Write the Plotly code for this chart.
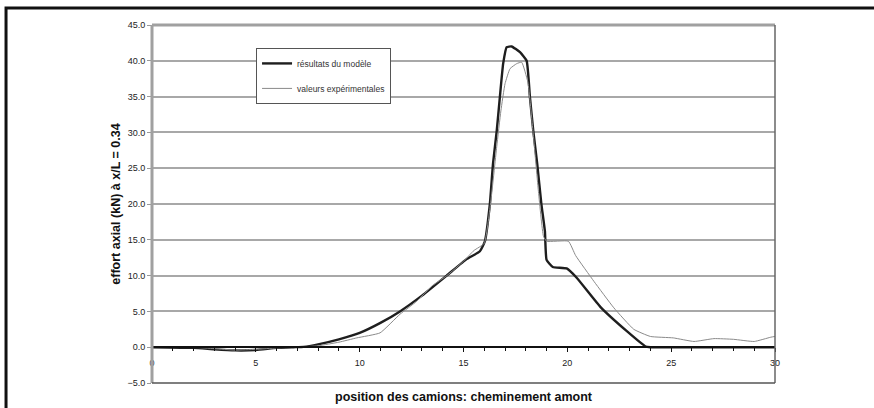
import plotly.graph_objects as go

# Axial force at x/L = 0.34 versus truck position (upstream path)
model_x = [0, 2, 3, 4, 5, 6, 6.8, 7.3, 8, 9, 10, 11, 11.94, 13, 14.19, 15.15, 15.79,
           16.03, 16.27, 16.42, 16.6, 16.75, 16.91, 17.08, 17.32, 17.72, 18.04,
           18.2, 18.36, 18.55, 18.75, 18.92, 19.0, 19.3, 19.97, 20.45, 21.6,
           22.88, 23.77, 24.0, 30]
model_y = [0, -0.1, -0.3, -0.45, -0.4, -0.1, 0, 0.05, 0.4, 1.1, 2.0, 3.4, 5.0, 7.2, 10.0, 12.3, 13.4,
           14.8, 20.0, 25.6, 30.2, 34.9, 39.6, 41.9, 42.0, 41.2, 40.0,
           34.9, 30.2, 25.6, 20.0, 16.2, 12.2, 11.2, 11.0, 9.7, 5.6,
           2.2, 0.1, 0, 0]

exp_x = [0, 2, 3, 4, 5, 6, 7, 8, 9, 9.86, 10.98, 11.94, 12.74, 13.5, 14.2, 15.0, 15.5,
         16.0, 16.3, 16.6, 16.8, 17.0, 17.24, 17.56, 17.8, 18.1, 18.35, 18.6, 18.85,
         19.0, 20.05, 20.4, 21.28, 22.24, 23.2, 24.0, 25.1, 26.1, 27.06, 28.0, 29.0,
         29.8, 30]
exp_y = [0, 0, -0.2, -0.4, -0.3, -0.1, 0, 0.2, 0.7, 1.3, 2.0, 4.6, 6.4, 8.6, 10.0, 12.0, 13.5,
         14.5, 20.0, 28.0, 33.0, 36.8, 38.9, 39.6, 39.8, 37.0, 30.0, 22.0, 15.5,
         14.8, 14.8, 12.8, 9.2, 5.5, 2.5, 1.5, 1.3, 0.8, 1.2, 1.1, 0.8,
         1.4, 1.5]

series_names = ["résultats du modèle", "valeurs expérimentales"]
x_ticks = [0, 5, 10, 15, 20, 25, 30]
y_ticks = [-5, 0, 5, 10, 15, 20, 25, 30, 35, 40, 45]

FONT = "Liberation Sans, Arial, sans-serif"

fig = go.Figure()
fig.add_trace(go.Scatter(
    x=model_x, y=model_y, mode="lines", name=series_names[0],
    line=dict(color="#1e1e1e", width=2.4, shape="spline", smoothing=0.4),
    legendgroup="a",
))
fig.add_trace(go.Scatter(
    x=exp_x, y=exp_y, mode="lines", name=series_names[1],
    line=dict(color="#8a8a8a", width=1, shape="spline", smoothing=0.4),
    legendgroup="b",
))

fig.update_layout(
    width=874, height=408,
    margin=dict(l=152, r=99, t=25, b=25),
    paper_bgcolor="white", plot_bgcolor="white",
    font=dict(family=FONT, color="#222"),
    showlegend=True,
    legend=dict(
        x=0.167, y=0.936, xanchor="left", yanchor="top",
        bordercolor="#555", borderwidth=1, bgcolor="white",
        font=dict(size=8.5, color="#333"),
        traceorder="grouped", tracegroupgap=6,
        itemwidth=30,
    ),
    xaxis=dict(
        range=[0, 30], tickvals=x_ticks, ticktext=[str(v) for v in x_ticks],
        anchor="free", position=0.1,
        showline=True, linecolor="#111", linewidth=1.5,
        ticks="outside", ticklen=4, tickcolor="#111",
        minor=dict(dtick=1, ticks="outside", ticklen=3, tickcolor="#111"),
        showgrid=False, zeroline=False,
        tickfont=dict(size=9, color="#222"),
        ticklabelstandoff=3,
    ),
    yaxis=dict(
        range=[-5, 45], tickvals=y_ticks, tickformat=".1f",
        showline=False,
        ticks="outside", ticklen=4, tickcolor="#999",
        showgrid=True, gridcolor="#a8a8a8", gridwidth=2,
        zeroline=False,
        tickfont=dict(size=9, color="#222"),
        title=dict(text="<b>effort axial (kN) à x/L = 0.34</b>",
                   font=dict(size=12.5, color="#111"), standoff=4),
    ),
    shapes=[
        # plot-area frame
        dict(type="line", xref="paper", yref="paper", x0=0, x1=1, y0=1, y1=1,
             line=dict(color="#a0a0a0", width=3), layer="above"),
        dict(type="line", xref="paper", yref="paper", x0=0, x1=0, y0=0, y1=1,
             line=dict(color="#a0a0a0", width=3), layer="above"),
        dict(type="line", xref="paper", yref="paper", x0=1, x1=1, y0=0, y1=1,
             line=dict(color="#666", width=1.5), layer="above"),
        dict(type="line", xref="paper", yref="paper", x0=0, x1=1, y0=0, y1=0,
             line=dict(color="#555", width=1.5), layer="above"),
        # outer chart border
        dict(type="rect", xref="paper", yref="paper", x0=-0.2343, x1=1.3, y0=-0.2, y1=1.0475,
             line=dict(color="#111", width=3), layer="above"),
    ],
    annotations=[
        dict(text="<b>position des camions: cheminement amont</b>",
             xref="paper", yref="paper", x=0.5, y=-0.039, yanchor="middle",
             showarrow=False, font=dict(size=12.5, color="#111")),
    ],
)

fig.write_html("out.html")
